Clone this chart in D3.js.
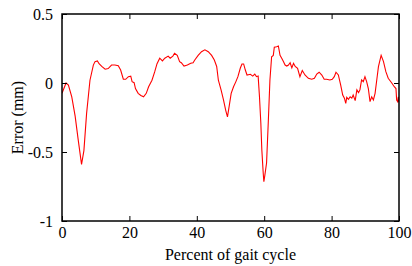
<!DOCTYPE html>
<html><head><meta charset="utf-8">
<script src="https://cdn.jsdelivr.net/npm/d3@7"></script>
<style>body{margin:0;background:#fff}svg{display:block}</style>
</head><body>
<script>
const pct = [0,1.2,1.9,2.9,3.9,4.8,5.8,6.5,7.3,8.3,9.3,9.8,10.5,11,11.8,12.8,13.7,14.7,15.7,16.7,17.4,18.2,18.9,19.7,20.4,20.8,21.4,21.8,22.6,23.4,24.2,25,25.7,26.7,27.5,28.2,29,29.8,30.5,31.5,32.1,32.9,33.4,34.2,34.9,35.4,36.2,37.2,38.2,38.9,39.4,40.4,41.4,42.4,43.4,44.4,45.2,45.9,46.4,47.2,47.9,48.6,49.1,49.6,50.2,50.9,51.6,52.2,52.9,53.4,53.9,54.4,54.9,55.9,56.6,57.2,57.7,58.2,58.6,59.0,59.3,59.7,59.9,60.2,60.7,61.2,61.7,62.2,62.7,63.0,63.7,64.2,64.7,65.2,65.7,66.2,66.7,67.2,67.7,68.2,68.7,69.2,69.9,70.6,71.3,72.1,73.1,74.1,74.9,75.6,76.3,77.1,77.8,78.5,79.5,80.2,80.8,81.3,82,82.7,83.3,83.8,84.2,84.5,85,85.5,86,86.4,87,87.5,88,88.4,88.9,89.4,89.9,90.4,90.9,91.4,91.9,92.4,92.9,93.4,93.9,94.7,95.4,96.1,96.8,97.8,98.6,99.1,99.3,99.6,99.8,100];
const err = [-0.075,0.0,-0.015,-0.1,-0.24,-0.41,-0.59,-0.49,-0.22,0.02,0.13,0.155,0.16,0.14,0.12,0.10,0.105,0.13,0.13,0.125,0.094,0.027,0.027,0.046,0.05,0.01,0.002,-0.04,-0.075,-0.09,-0.1,-0.075,-0.027,0.02,0.08,0.14,0.18,0.16,0.18,0.195,0.18,0.195,0.215,0.2,0.155,0.147,0.123,0.13,0.143,0.147,0.167,0.2,0.227,0.24,0.227,0.2,0.167,0.12,0.02,-0.05,-0.12,-0.2,-0.245,-0.17,-0.075,-0.027,0.01,0.046,0.107,0.138,0.138,0.094,0.058,0.063,0.05,0.065,0.046,0.05,-0.1,-0.29,-0.485,-0.65,-0.715,-0.667,-0.58,-0.29,0.022,0.19,0.2,0.26,0.263,0.268,0.2,0.18,0.155,0.13,0.123,0.13,0.147,0.11,0.143,0.12,0.107,0.046,0.09,0.058,0.034,0.027,0.034,0.065,0.078,0.058,0.027,0.027,0.022,0.027,0.046,0.078,0.058,-0.015,-0.087,-0.11,-0.147,-0.104,-0.118,-0.1,-0.11,-0.087,-0.128,-0.05,-0.07,-0.05,0.022,0.01,0.046,0.01,-0.04,-0.135,-0.1,-0.123,-0.075,0.022,0.118,0.2,0.155,0.082,0.034,0.002,-0.027,-0.04,-0.123,-0.135,-0.1,-0.14];
const xTicks = [0,20,40,60,80,100];
const yTicks = [-1,-0.5,0,0.5];
const yTickLabels = ["-1","-0.5","0","0.5"];

const W=412,H=266, m={l:62,r:13,t:14,b:45};
const svg=d3.select("body").append("svg").attr("width",W).attr("height",H);
const x=d3.scaleLinear().domain([0,100]).range([m.l,W-m.r]);
const y=d3.scaleLinear().domain([-1,0.5]).range([H-m.b,m.t]);
const font="'Liberation Serif','Times New Roman',serif";

svg.append("clipPath").attr("id","c").append("rect").attr("x",m.l).attr("y",m.t).attr("width",W-m.l-m.r).attr("height",H-m.t-m.b);
svg.append("path").datum(pct.map((p,i)=>[p,err[i]]))
  .attr("clip-path","url(#c)")
  .attr("fill","none").attr("stroke","#ff0000").attr("stroke-width",1.1)
  .attr("d",d3.line().x(d=>x(d[0])).y(d=>y(d[1])));

function styleAxis(g){g.select(".domain").remove();g.selectAll("line").attr("stroke","#000").attr("stroke-width",1);}
svg.append("g").attr("transform",`translate(0,${H-m.b})`)
  .call(d3.axisBottom(x).tickValues(xTicks).tickSize(-5).tickPadding(6).tickFormat(d3.format("d")))
  .call(styleAxis).call(g=>g.selectAll("text").attr("font-family",font).attr("font-size",16).attr("fill","#000"));
svg.append("g").attr("transform",`translate(0,${m.t})`)
  .call(d3.axisTop(x).tickValues(xTicks).tickSize(-5).tickFormat(""))
  .call(styleAxis);
svg.append("g").attr("transform",`translate(${m.l},0)`)
  .call(d3.axisLeft(y).tickValues(yTicks).tickSize(-5).tickPadding(9).tickFormat((d,i)=>yTickLabels[i]))
  .call(styleAxis).call(g=>g.selectAll("text").attr("font-family",font).attr("font-size",16).attr("fill","#000"));
svg.append("g").attr("transform",`translate(${W-m.r},0)`)
  .call(d3.axisRight(y).tickValues(yTicks).tickSize(-5).tickFormat(""))
  .call(styleAxis);

svg.append("rect").attr("x",m.l).attr("y",m.t).attr("width",W-m.l-m.r).attr("height",H-m.t-m.b)
  .attr("fill","none").attr("stroke","#000").attr("stroke-width",1.5);

svg.append("text").attr("x",(m.l+W-m.r)/2).attr("y",260).attr("text-anchor","middle")
  .attr("font-family",font).attr("font-size",16).text("Percent of gait cycle");
svg.append("text").attr("transform",`translate(23,${(m.t+H-m.b)/2}) rotate(-90)`).attr("text-anchor","middle")
  .attr("font-family",font).attr("font-size",16).text("Error (mm)");
</script>
</body></html>
